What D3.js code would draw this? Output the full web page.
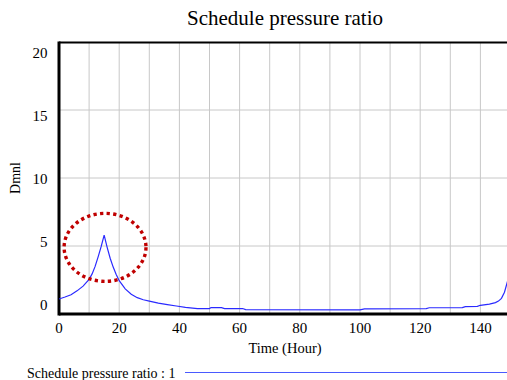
<!DOCTYPE html>
<html><head><meta charset="utf-8">
<script src="https://cdn.jsdelivr.net/npm/d3@7"></script>
<style>body{margin:0;background:#fff}svg{display:block}text{font-family:"Liberation Serif","Times New Roman",serif;fill:#000}</style>
</head><body><svg id="c" width="507" height="380"></svg>
<script>
const title = "Schedule pressure ratio";
const yLabel = "Dmnl";
const xLabel = "Time (Hour)";
const legendLabel = "Schedule pressure ratio : 1";
const xTicks = [0, 20, 40, 60, 80, 100, 120, 140];
const yTicks = [0, 5, 10, 15, 20];
const times = [0, 2, 4, 6, 8, 10, 11, 12, 13, 14, 15, 16, 17, 18, 19, 20, 22, 24, 26, 28, 30, 33, 36, 39, 42, 46, 50, 50.5, 54, 55, 61, 62, 100, 101.5, 122, 123, 134, 135, 139, 140, 143, 145, 146, 147, 148, 149, 150];
const values = [1.1, 1.25, 1.42, 1.7, 2.05, 2.55, 2.95, 3.5, 4.2, 4.95, 5.8, 4.9, 4.1, 3.45, 2.9, 2.45, 1.85, 1.45, 1.2, 1.05, 0.95, 0.8, 0.69, 0.59, 0.49, 0.4, 0.4, 0.47, 0.47, 0.4, 0.4, 0.32, 0.3, 0.38, 0.39, 0.46, 0.47, 0.54, 0.56, 0.64, 0.73, 0.84, 0.95, 1.15, 1.6, 2.4, 4.0];
const highlight = [{cx: 15.3, cy: 4.9, rx: 13.6, ry: 2.5}];

const svg = d3.select("#c");
const x = d3.scaleLinear().domain([0, 150]).range([59, 510.5]);
const y = d3.scaleLinear().domain([0, 20]).range([314, 42]);
const yLab = d3.scaleLinear().domain([0, 20]).range([305, 53]);

svg.append("defs").append("clipPath").attr("id","clip")
  .append("rect").attr("x", 59).attr("y", 30).attr("width", 448).attr("height", 284);

// grid
svg.append("g").selectAll("line").data(d3.range(10, 150, 10)).join("line")
  .attr("x1", d => x(d)).attr("x2", d => x(d)).attr("y1", y(20)).attr("y2", y(0))
  .attr("stroke", "#c8c8c8").attr("stroke-width", 1);
svg.append("g").selectAll("line").data([5, 10, 15]).join("line")
  .attr("x1", x(0)).attr("x2", 507).attr("y1", d => y(d)).attr("y2", d => y(d))
  .attr("stroke", "#c8c8c8").attr("stroke-width", 1);

// frame
svg.append("line").attr("x1", x(0)).attr("x2", 507).attr("y1", y(20)+0.5).attr("y2", y(20)+0.5).attr("stroke","#000").attr("stroke-width",2);
svg.append("line").attr("x1", x(0)).attr("x2", 507).attr("y1", y(0)).attr("y2", y(0)).attr("stroke","#000").attr("stroke-width",3);
svg.append("line").attr("x1", x(0)).attr("x2", x(0)).attr("y1", y(20)-0.5).attr("y2", y(0)+1.5).attr("stroke","#000").attr("stroke-width",3);

// data line
const line = d3.line().x((d, i) => x(times[i])).y(d => y(d));
svg.append("path").datum(values).attr("d", line).attr("clip-path","url(#clip)")
  .attr("fill","none").attr("stroke","#2a2aff").attr("stroke-width",1.2);

// highlight ellipse
svg.append("g").selectAll("ellipse").data(highlight).join("ellipse")
  .attr("cx", d => x(d.cx)).attr("cy", d => y(d.cy))
  .attr("rx", d => x(d.rx) - x(0)).attr("ry", d => y(0) - y(d.ry))
  .attr("fill","none").attr("stroke","#c00000").attr("stroke-width",3.4).attr("stroke-dasharray","3.3 3.3");

// tick labels
svg.append("g").selectAll("text").data(xTicks).join("text")
  .attr("x", d => x(d)).attr("y", 333).attr("text-anchor","middle").attr("font-size",15).text(d => d);
svg.append("g").selectAll("text").data(yTicks).join("text")
  .attr("x", 47.5).attr("y", d => yLab(d) + 5).attr("text-anchor","end").attr("font-size",15).text(d => d);

svg.append("text").attr("x", 285).attr("y", 25).attr("text-anchor","middle").attr("font-size",21).text(title);
svg.append("text").attr("transform","translate(20,178) rotate(-90)").attr("text-anchor","middle").attr("font-size",14).text(yLabel);
svg.append("text").attr("x", 285).attr("y", 353).attr("text-anchor","middle").attr("font-size",14.5).text(xLabel);

svg.append("text").attr("x", 27).attr("y", 378).attr("font-size",14).text(legendLabel);
svg.append("line").attr("x1",185).attr("x2",507).attr("y1",372.5).attr("y2",372.5).attr("stroke","#4a5aff").attr("stroke-width",1.2);
</script></body></html>
